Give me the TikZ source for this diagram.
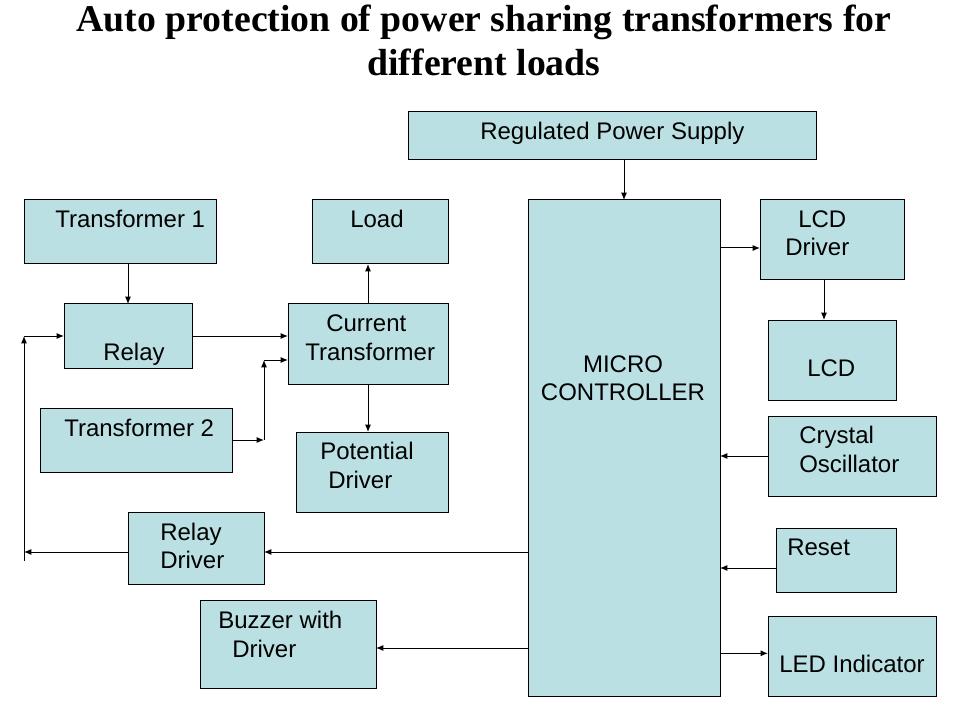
\documentclass[tikz,border=0pt]{standalone}
\usepackage{fontspec}
\setmainfont{Liberation Sans}
\newfontfamily\titlefont{Liberation Serif}
\usetikzlibrary{arrows.meta,calc}
\definecolor{boxfill}{HTML}{BBE0E3}
\tikzset{
  box/.style={draw=black, fill=boxfill, line width=0.75pt, inner sep=0pt, outer sep=0pt},
  txt/.style={anchor=base west, inner sep=0pt, font=\fontsize{18}{21}\selectfont},
  ctxt/.style={anchor=base, inner sep=0pt, font=\fontsize{18}{21}\selectfont},
  ttl/.style={anchor=base, inner sep=0pt, font=\titlefont\bfseries\fontsize{28.3}{34}\selectfont},
  arr/.style={line width=0.75pt, -{Latex[length=5.5pt,width=4.5pt]}},
  ln/.style={line width=0.75pt}
}
\newcommand\bx[5]{\node[box, minimum width={(#4-#2)*0.75pt}, minimum height={(#5-#3)*0.75pt}] (#1) at ({(#2+#4)/2},{(#3+#5)/2}) {};}
\begin{document}
\begin{tikzpicture}[x=0.75pt,y=-0.75pt]
\useasboundingbox (0,0) rectangle (960,720);
% title
\node[ttl] (title1) at (484,32) {Auto protection of power sharing transformers for};
\node[ttl] (title2) at (484,76) {different loads};
% boxes
\bx{rps}{408}{112}{816}{160}
\bx{t1}{24}{200}{216}{264}
\bx{load}{312}{200}{448}{264}
\bx{mc}{528}{200}{720}{696}
\bx{lcdd}{760}{200}{904}{280}
\bx{relay}{64}{304}{192}{368}
\bx{ct}{288}{304}{448}{384}
\bx{lcd}{768}{320}{896}{400}
\bx{t2}{40}{408}{232}{472}
\bx{pd}{296}{432}{448}{512}
\bx{xtal}{768}{416}{936}{496}
\bx{rd}{128}{512}{264}{584}
\bx{reset}{776}{528}{896}{592}
\bx{buz}{200}{600}{376}{688}
\bx{led}{768}{616}{936}{696}
% texts
\node[txt] (rpsT) at (480,140) {Regulated Power Supply};
\node[txt] (t1T) at (55,228) {Transformer 1};
\node[txt] (loadT) at (350,228) {Load};
\node[ctxt] (mcT1) at (623,372) {MICRO};
\node[ctxt] (mcT2) at (623,400) {CONTROLLER};
\node[txt] (lcddT1) at (798,228) {LCD};
\node[txt] (lcddT2) at (785,256) {Driver};
\node[txt] (relayT) at (103,360) {Relay};
\node[txt] (ctT1) at (326,331) {Current};
\node[txt] (ctT2) at (305,360) {Transformer};
\node[txt] (lcdT) at (807,376) {LCD};
\node[txt] (t2T) at (64,436) {Transformer 2};
\node[txt] (pdT1) at (320,459) {Potential};
\node[txt] (pdT2) at (328,488) {Driver};
\node[txt] (xtalT1) at (799,443) {Crystal};
\node[txt] (xtalT2) at (799,472) {Oscillator};
\node[txt] (rdT1) at (160,540) {Relay};
\node[txt] (rdT2) at (160,568) {Driver};
\node[txt] (resetT) at (787,555) {Reset};
\node[txt] (buzT1) at (218,628) {Buzzer with};
\node[txt] (buzT2) at (232,657) {Driver};
\node[txt] (ledT) at (779,672) {LED Indicator};
% junction coordinates
\coordinate (j1) at (264,440);
\coordinate (j2) at (264,360);
\coordinate (l0) at (24,561);
\coordinate (l1) at (24,552);
\coordinate (l2) at (24,336);
% connectors
\draw[arr] (rps.south -| mc.north) -- (mc.north);
\draw[arr] (t1.south -| relay.north) -- (relay.north);
\draw[arr] (relay.east) -- (relay.east -| ct.west);
\draw[arr] (t2.east) -- (j1);
\draw[arr] (j1) -- (j2);
\draw[arr] (j2) -- (j2 -| ct.west);
\draw[arr] (ct.north) -- (ct.north |- load.south);
\draw[arr] (ct.south) -- (ct.south |- pd.north);
\draw[arr] ([yshift=-3pt]rd.east -| mc.west) -- ([yshift=-3pt]rd.east);
\draw[arr] ([yshift=-3pt]rd.west) -- (l1);
\draw[ln] (l0) -- (l1);
\draw[arr] (l1) -- (l2);
\draw[arr] (l2) -- (relay.west);
\draw[arr] ([yshift=-3pt]buz.east -| mc.west) -- ([yshift=-3pt]buz.east);
\draw[arr] ([yshift=-6pt]lcdd.west -| mc.east) -- ([yshift=-6pt]lcdd.west);
\draw[arr] ([xshift=-6pt]lcdd.south) -- ([xshift=-6pt]lcd.north);
\draw[arr] (xtal.west) -- (xtal.west -| mc.east);
\draw[arr] ([yshift=-6pt]reset.west) -- ([yshift=-6pt]reset.west -| mc.east);
\draw[arr] ([yshift=2pt]led.west -| mc.east) -- ([yshift=2pt]led.west);
\end{tikzpicture}
\end{document}
